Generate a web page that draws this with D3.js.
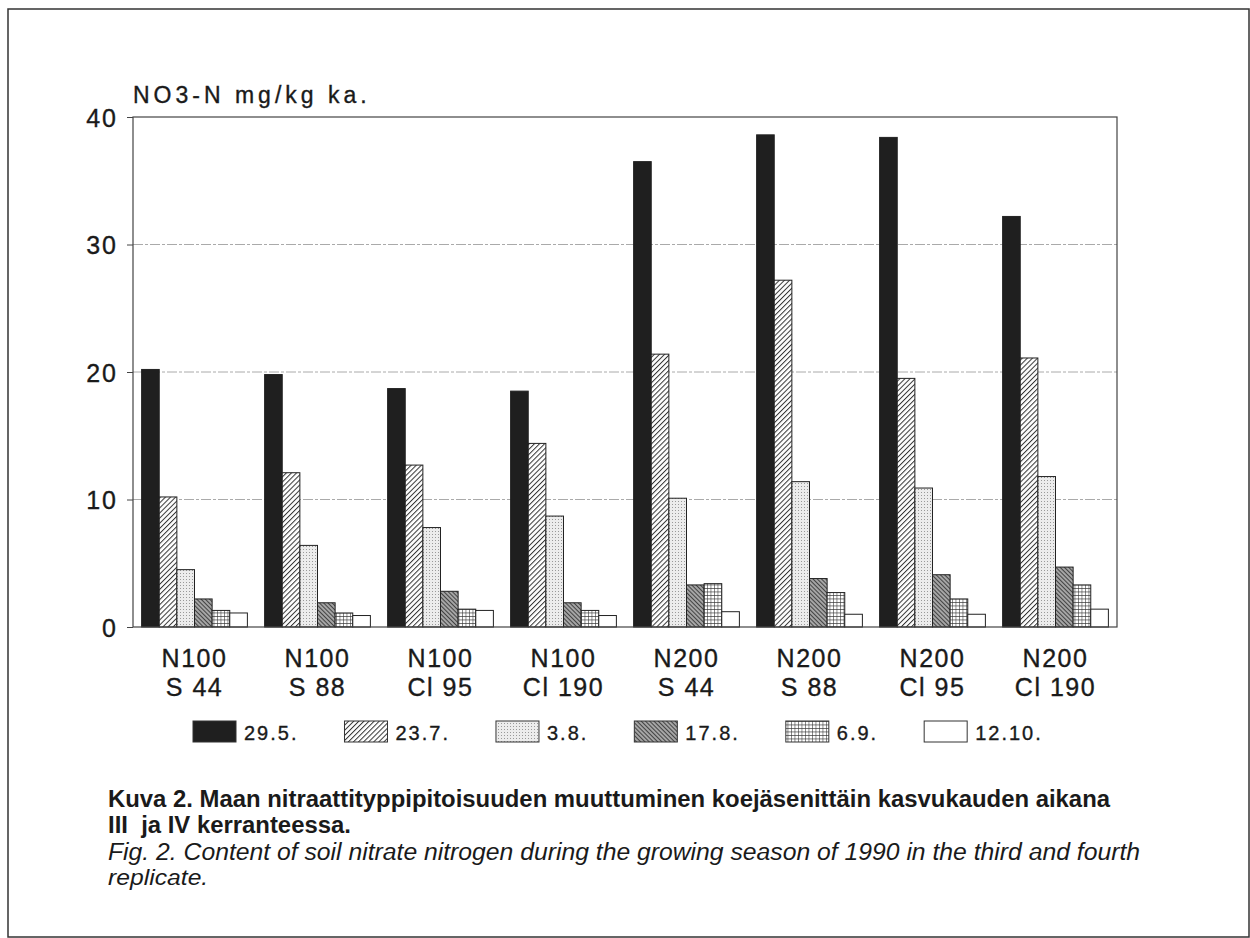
<!DOCTYPE html>
<html>
<head>
<meta charset="utf-8">
<script src="https://cdn.jsdelivr.net/npm/d3@7"></script>
<style>
  body { margin: 0; background: #fff; }
  text { font-family: "Liberation Sans", Arial, sans-serif; fill: #1a1a1a; }
  .lbl { stroke: #1a1a1a; stroke-width: 0.35px; }
</style>
</head>
<body>
<div id="chart"></div>
<script>
// categories (two label lines each)
var groupLine1 = ["N100", "N100", "N100", "N100", "N200", "N200", "N200", "N200"];
var groupLine2 = ["S 44", "S 88", "Cl 95", "Cl 190", "S 44", "S 88", "Cl 95", "Cl 190"];
var groups = ["g1", "g2", "g3", "g4", "g5", "g6", "g7", "g8"];

// sampling dates
var dates = ["29.5.", "23.7.", "3.8.", "17.8.", "6.9.", "12.10."];

// NO3-N mg/kg per date, one value per group
var d_29_5  = [20.2, 19.8, 18.7, 18.5, 36.5, 38.6, 38.4, 32.2];
var d_23_7  = [10.2, 12.1, 12.7, 14.4, 21.4, 27.2, 19.5, 21.1];
var d_3_8   = [4.5, 6.4, 7.8, 8.7, 10.1, 11.4, 10.9, 11.8];
var d_17_8  = [2.2, 1.9, 2.8, 1.9, 3.3, 3.8, 4.1, 4.7];
var d_6_9   = [1.3, 1.1, 1.4, 1.3, 3.4, 2.7, 2.2, 3.3];
var d_12_10 = [1.1, 0.9, 1.3, 0.9, 1.2, 1.0, 1.0, 1.4];
var series = [d_29_5, d_23_7, d_3_8, d_17_8, d_6_9, d_12_10];

var yTicks = [0, 10, 20, 30, 40];
var yTitle = "NO3-N mg/kg ka.";

var captionBold = ["Kuva 2. Maan nitraattityppipitoisuuden muuttuminen koejäsenittäin kasvukauden aikana",
                   "III  ja IV kerranteessa."];
var captionItalic = ["Fig. 2. Content of soil nitrate nitrogen during the growing season of 1990 in the third and fourth",
                     "replicate."];

var W = 1250, H = 938;
var plot = { left: 133, right: 1117, top: 117, bottom: 627 };

var svg = d3.select("#chart").append("svg")
  .attr("width", W)
  .attr("height", H);

svg.append("rect").attr("width", W).attr("height", H).attr("fill", "#fff");

// fill patterns, one per date
var defs = svg.append("defs");

var p1 = defs.append("pattern").attr("id", "pat1").attr("patternUnits", "userSpaceOnUse")
  .attr("width", 3.6).attr("height", 3.6).attr("patternTransform", "rotate(45)");
p1.append("rect").attr("width", 3.6).attr("height", 3.6).attr("fill", "#fff");
p1.append("line").attr("x1", 0).attr("y1", 0).attr("x2", 0).attr("y2", 3.6)
  .attr("stroke", "#333").attr("stroke-width", 2);

var p2 = defs.append("pattern").attr("id", "pat2").attr("patternUnits", "userSpaceOnUse")
  .attr("width", 3).attr("height", 3);
p2.append("rect").attr("width", 3).attr("height", 3).attr("fill", "#ececec");
p2.append("rect").attr("width", 1).attr("height", 1).attr("fill", "#999");

var p3 = defs.append("pattern").attr("id", "pat3").attr("patternUnits", "userSpaceOnUse")
  .attr("width", 3).attr("height", 3).attr("patternTransform", "rotate(-45)");
p3.append("rect").attr("width", 3).attr("height", 3).attr("fill", "#a5a5a5");
p3.append("line").attr("x1", 0).attr("y1", 0).attr("x2", 0).attr("y2", 3)
  .attr("stroke", "#2a2a2a").attr("stroke-width", 1.6);

var p4 = defs.append("pattern").attr("id", "pat4").attr("patternUnits", "userSpaceOnUse")
  .attr("width", 3.5).attr("height", 3.5);
p4.append("rect").attr("width", 3.5).attr("height", 3.5).attr("fill", "#fff");
p4.append("path").attr("d", "M0,0H3.5M0,0V3.5").attr("stroke", "#333").attr("stroke-width", 1.1);

var fills = ["#1f1f1f", "url(#pat1)", "url(#pat2)", "url(#pat3)", "url(#pat4)", "#fff"];

// outer frame
svg.append("rect")
  .attr("x", 8).attr("y", 9).attr("width", W - 9).attr("height", H - 10)
  .attr("fill", "none").attr("stroke", "#333").attr("stroke-width", 1.5);

var x0 = d3.scaleBand()
  .domain(groups)
  .range([plot.left, plot.right])
  .paddingInner(0.14)
  .paddingOuter(0.07);

var x1 = d3.scaleBand()
  .domain(d3.range(dates.length))
  .range([0, x0.bandwidth()]);

var y = d3.scaleLinear()
  .domain([0, 40])
  .range([plot.bottom, plot.top]);

// gridlines
svg.append("g")
  .selectAll("line")
  .data(yTicks.filter(d => d > 0 && d < 40))
  .enter().append("line")
  .attr("x1", plot.left).attr("x2", plot.right)
  .attr("y1", d => y(d)).attr("y2", d => y(d))
  .attr("stroke", "#aaa").attr("stroke-width", 1)
  .attr("stroke-dasharray", "10,2,3,2");

// bars
var rows = [];
groups.forEach(function(g, gi) {
  series.forEach(function(s, si) {
    rows.push({ g: g, si: si, v: s[gi] });
  });
});

svg.append("g")
  .selectAll("rect")
  .data(rows)
  .enter().append("rect")
  .attr("x", d => x0(d.g) + x1(d.si))
  .attr("y", d => y(d.v))
  .attr("width", x1.bandwidth())
  .attr("height", d => y(0) - y(d.v))
  .attr("fill", d => fills[d.si])
  .attr("stroke", "#222")
  .attr("stroke-width", 1);

// plot box
svg.append("rect")
  .attr("x", plot.left).attr("y", plot.top)
  .attr("width", plot.right - plot.left).attr("height", plot.bottom - plot.top)
  .attr("fill", "none").attr("stroke", "#444").attr("stroke-width", 1.2);

// y axis
var yAxis = svg.append("g")
  .attr("transform", "translate(" + plot.left + ",0)")
  .call(d3.axisLeft(y).tickValues(yTicks).tickSize(6).tickPadding(9));
yAxis.select(".domain").remove();
yAxis.selectAll(".tick line").attr("stroke", "#444");
yAxis.selectAll(".tick text")
  .attr("class", "lbl")
  .attr("fill", "#1a1a1a")
  .style("font-size", "25px")
  .style("letter-spacing", "2px")
  .attr("dy", "0.36em");

svg.append("text")
  .attr("class", "lbl")
  .attr("x", plot.left)
  .attr("y", 103)
  .style("font-size", "23px")
  .style("letter-spacing", "4px")
  .text(yTitle);

// x category labels
var xl = svg.append("g")
  .selectAll("text")
  .data(groups)
  .enter().append("text")
  .attr("class", "lbl")
  .attr("text-anchor", "middle")
  .style("font-size", "25px")
  .style("letter-spacing", "1.5px");
xl.append("tspan")
  .attr("x", d => x0(d) + x0.bandwidth() / 2)
  .attr("y", 667)
  .text((d, i) => groupLine1[i]);
xl.append("tspan")
  .attr("x", d => x0(d) + x0.bandwidth() / 2)
  .attr("y", 696)
  .text((d, i) => groupLine2[i]);

// legend
var lx = 193;
var legend = svg.append("g");
dates.forEach(function(d, i) {
  legend.append("rect")
    .attr("x", lx).attr("y", 721)
    .attr("width", 43).attr("height", 21)
    .attr("fill", fills[i]).attr("stroke", "#333").attr("stroke-width", 1);
  var t = legend.append("text")
    .attr("class", "lbl")
    .attr("x", lx + 51).attr("y", 740)
    .style("font-size", "20px")
    .style("letter-spacing", "2px")
    .text(d);
  lx += 51 + t.node().getComputedTextLength() + 46;
});

// caption
var cap = svg.append("g");
var c1 = cap.append("text")
  .attr("x", 108).attr("y", 807)
  .style("font-size", "23px").style("font-weight", "bold")
  .text(captionBold[0]);
var k = 1002 / c1.node().getComputedTextLength();
c1.attr("textLength", 1002).attr("lengthAdjust", "spacingAndGlyphs");
cap.append("text")
  .attr("x", 108).attr("y", 833)
  .style("font-size", "23px").style("font-weight", "bold")
  .style("white-space", "pre")
  .attr("transform", "translate(108,0) scale(" + k + ",1) translate(-108,0)")
  .text(captionBold[1]);
var c3 = cap.append("text")
  .attr("x", 108).attr("y", 860)
  .style("font-size", "23px").style("font-style", "italic")
  .text(captionItalic[0]);
var k2 = 1032 / c3.node().getComputedTextLength();
c3.attr("textLength", 1032).attr("lengthAdjust", "spacingAndGlyphs");
cap.append("text")
  .attr("x", 108).attr("y", 885)
  .style("font-size", "23px").style("font-style", "italic")
  .attr("transform", "translate(108,0) scale(" + k2 + ",1) translate(-108,0)")
  .text(captionItalic[1]);
</script>
</body>
</html>
